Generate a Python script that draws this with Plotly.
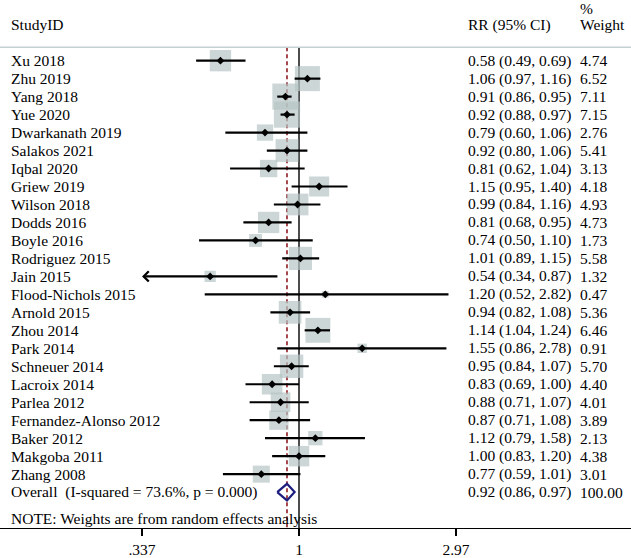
import math
import plotly.graph_objects as go

# ---------------- data ----------------
studies = ["Xu 2018", "Zhu 2019", "Yang 2018", "Yue 2020", "Dwarkanath 2019", "Salakos 2021",
           "Iqbal 2020", "Griew 2019", "Wilson 2018", "Dodds 2016", "Boyle 2016", "Rodriguez 2015",
           "Jain 2015", "Flood-Nichols 2015", "Arnold 2015", "Zhou 2014", "Park 2014", "Schneuer 2014",
           "Lacroix 2014", "Parlea 2012", "Fernandez-Alonso 2012", "Baker 2012", "Makgoba 2011", "Zhang 2008"]
rr = [0.58, 1.06, 0.91, 0.92, 0.79, 0.92, 0.81, 1.15, 0.99, 0.81, 0.74, 1.01,
      0.54, 1.20, 0.94, 1.14, 1.55, 0.95, 0.83, 0.88, 0.87, 1.12, 1.00, 0.77]
ci_low = [0.49, 0.97, 0.86, 0.88, 0.60, 0.80, 0.62, 0.95, 0.84, 0.68, 0.50, 0.89,
          0.336, 0.52, 0.82, 1.04, 0.86, 0.84, 0.69, 0.71, 0.71, 0.79, 0.83, 0.59]
ci_high = [0.69, 1.16, 0.95, 0.97, 1.06, 1.06, 1.04, 1.40, 1.16, 0.95, 1.10, 1.15,
           0.87, 2.82, 1.08, 1.24, 2.78, 1.07, 1.00, 1.07, 1.08, 1.58, 1.20, 1.01]
weights = [4.74, 6.52, 7.11, 7.15, 2.76, 5.41, 3.13, 4.18, 4.93, 4.73, 1.73, 5.58,
           1.32, 0.47, 5.36, 6.46, 0.91, 5.70, 4.40, 4.01, 3.89, 2.13, 4.38, 3.01]
overall_label = "Overall\u00a0 (I-squared = 73.6%, p = 0.000)"
overall_rr, overall_low, overall_high, overall_weight = 0.92, 0.86, 0.97, 100.00
tick_values = [0.3367, 1, 2.97]
tick_labels = [".337", "1", "2.97"]
note_text = "NOTE: Weights are from random effects analysis"

# ---------------- styling ----------------
W, H = 631, 558
FONT = "Liberation Serif, Times New Roman, serif"
FS = 15.5
BOX_COLOR = "#B6C5C5"
RULE_COLOR = "#C5D0D0"
DIAMOND_COLOR = "#1E1E80"
REF_RED = "#8E1B22"
axis_min, axis_max = tick_values[0], tick_values[-1]

n = len(studies)
rows = list(range(n))
overall_row = n
y_top, y_bottom = -3.374, 25.996
header_rule_y = -0.75

fig = go.Figure()

# vertical reference lines (drawn first so boxes cover them)
fig.add_trace(go.Scatter(x=[1, 1], y=[header_rule_y, y_bottom], mode="lines",
                         line=dict(color="black", width=1.4), hoverinfo="skip"))
fig.add_trace(go.Scatter(x=[overall_rr, overall_rr], y=[header_rule_y, y_bottom], mode="lines",
                         line=dict(color=REF_RED, width=1.6, dash="4px,3px"), hoverinfo="skip"))

# weight boxes
fig.add_trace(go.Scatter(x=rr, y=rows, mode="markers",
                         marker=dict(symbol="square", size=[9.8 * math.sqrt(w) for w in weights],
                                     color=BOX_COLOR, line=dict(width=0)),
                         hoverinfo="skip"))

# CI lines (those not truncated)
cx, cy = [], []
for i in rows:
    if ci_low[i] >= axis_min and ci_high[i] <= axis_max:
        cx += [ci_low[i], ci_high[i], None]
        cy += [i, i, None]
fig.add_trace(go.Scatter(x=cx, y=cy, mode="lines", line=dict(color="black", width=2.2),
                         hoverinfo="skip"))

# point estimates
fig.add_trace(go.Scatter(x=rr, y=rows, mode="markers",
                         marker=dict(symbol="diamond", size=6, color="black"), hoverinfo="skip"))

# overall diamond
h = 0.46
fig.add_trace(go.Scatter(x=[overall_low, overall_rr, overall_high, overall_rr, overall_low],
                         y=[overall_row, overall_row - h, overall_row, overall_row + h, overall_row],
                         mode="lines", line=dict(color=DIAMOND_COLOR, width=2.2), hoverinfo="skip"))

annotations = []
# truncated CIs -> arrows
for i in rows:
    if ci_low[i] < axis_min:
        annotations.append(dict(x=math.log10(axis_min), y=i, xref="x", yref="y",
                                ax=math.log10(ci_high[i]), ay=i, axref="x", ayref="y",
                                text="", showarrow=True, arrowhead=4, arrowsize=0.9,
                                arrowwidth=2.2, arrowcolor="black", standoff=0))

def txt(x_px, y, s, anchor="left"):
    annotations.append(dict(x=x_px / W, y=y, xref="paper", yref="y", text=s, showarrow=False,
                            xanchor=anchor, yanchor="middle",
                            font=dict(family=FONT, size=FS, color="black")))

# header
txt(9, -1.99, "StudyID")
txt(466, -1.99, "RR (95% CI)")
txt(578, -2.9, "%")
txt(578, -1.99, "Weight")

for i in rows:
    txt(9, i, studies[i])
    txt(466, i, f"{rr[i]:.2f} ({ci_low[i]:.2f}, {ci_high[i]:.2f})")
    txt(578, i, f"{weights[i]:.2f}")
txt(9, overall_row, overall_label)
txt(466, overall_row, f"{overall_rr:.2f} ({overall_low:.2f}, {overall_high:.2f})")
txt(578, overall_row, f"{overall_weight:.2f}")
txt(9, 25.44, note_text)

shapes = [dict(type="line", xref="paper", yref="y", x0=0, x1=1, y0=header_rule_y, y1=header_rule_y,
               line=dict(color=RULE_COLOR, width=1.5))]

fig.update_layout(
    width=W, height=H, autosize=False,
    margin=dict(l=0, r=0, t=0, b=H - 531),
    paper_bgcolor="white", plot_bgcolor="white",
    showlegend=False,
    annotations=annotations, shapes=shapes,
    xaxis=dict(type="log", range=[-0.9006, 1.0], showgrid=False, zeroline=False,
               showline=True, linecolor="black", linewidth=1.4,
               ticks="outside", ticklen=7, tickwidth=1.4, tickcolor="black",
               tickvals=tick_values, ticktext=tick_labels,
               tickfont=dict(family=FONT, size=FS, color="black"), fixedrange=True),
    yaxis=dict(range=[y_bottom, y_top], visible=False, fixedrange=True),
)

fig.write_html("out.html", config={"displayModeBar": False, "staticPlot": True},
               post_script="document.body.style.margin='0px';document.body.style.overflow='hidden';")
